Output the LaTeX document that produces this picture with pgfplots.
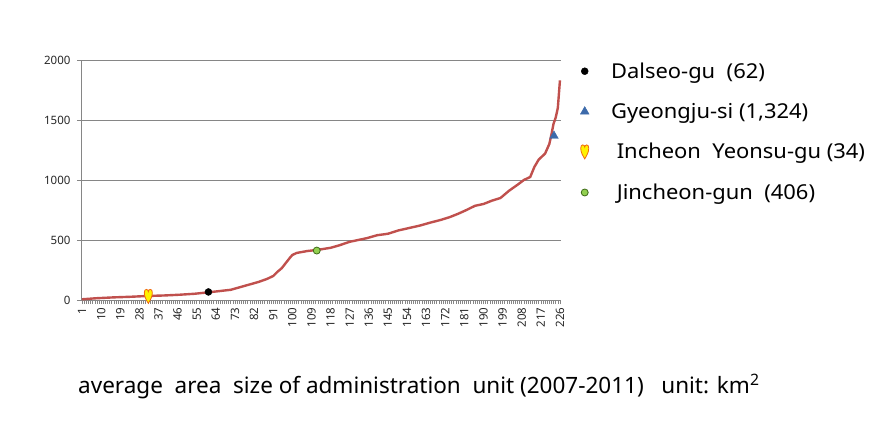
\documentclass[border=0pt]{standalone}
\usepackage{fontspec}
\setmainfont{Noto Sans}
\newfontfamily\legfont[FakeStretch=1.07]{Noto Sans}
\usepackage{pgfplots}
\pgfplotsset{compat=1.18}
\definecolor{curve}{HTML}{C0504D}
\definecolor{gridc}{HTML}{868686}
\definecolor{tri}{HTML}{3C6AAA}
\definecolor{grn}{HTML}{92D050}
\definecolor{grnd}{HTML}{3F6B1A}
\definecolor{heartline}{HTML}{F06A10}
\definecolor{heartfill}{HTML}{FFF200}
\pgfdeclareplotmark{heart}{%
\pgfpathmoveto{\pgfpoint{0pt}{-1.75\pgfplotmarksize}}%
\pgfpathcurveto{\pgfpoint{-0.5\pgfplotmarksize}{-0.9\pgfplotmarksize}}{\pgfpoint{-1\pgfplotmarksize}{-0.1\pgfplotmarksize}}{\pgfpoint{-1\pgfplotmarksize}{0.9\pgfplotmarksize}}%
\pgfpathcurveto{\pgfpoint{-1\pgfplotmarksize}{1.5\pgfplotmarksize}}{\pgfpoint{-0.8\pgfplotmarksize}{1.75\pgfplotmarksize}}{\pgfpoint{-0.5\pgfplotmarksize}{1.75\pgfplotmarksize}}%
\pgfpathcurveto{\pgfpoint{-0.2\pgfplotmarksize}{1.75\pgfplotmarksize}}{\pgfpoint{0pt}{1.5\pgfplotmarksize}}{\pgfpoint{0pt}{1.2\pgfplotmarksize}}%
\pgfpathcurveto{\pgfpoint{0pt}{1.5\pgfplotmarksize}}{\pgfpoint{0.2\pgfplotmarksize}{1.75\pgfplotmarksize}}{\pgfpoint{0.5\pgfplotmarksize}{1.75\pgfplotmarksize}}%
\pgfpathcurveto{\pgfpoint{0.8\pgfplotmarksize}{1.75\pgfplotmarksize}}{\pgfpoint{1\pgfplotmarksize}{1.5\pgfplotmarksize}}{\pgfpoint{1\pgfplotmarksize}{0.9\pgfplotmarksize}}%
\pgfpathcurveto{\pgfpoint{1\pgfplotmarksize}{-0.1\pgfplotmarksize}}{\pgfpoint{0.5\pgfplotmarksize}{-0.9\pgfplotmarksize}}{\pgfpoint{0pt}{-1.75\pgfplotmarksize}}%
\pgfpathclose
\pgfusepathqfillstroke}
\begin{document}
\begin{tikzpicture}[x=1pt,y=1pt]
\path (0,0) rectangle (882,437);
\begin{axis}[
  at={(81pt,137pt)}, anchor=south west,
  scale only axis, width=480pt, height=240pt,
  xmin=0.5, xmax=226.5, ymin=0, ymax=2000,
  axis x line*=bottom, axis y line*=left,
  axis line style={gridc, line width=0.8pt, -},
  tick align=outside,
  major tick length=4pt, minor tick length=4pt,
  every tick/.style={gridc, line width=0.6pt},
  xtick={1,10,...,226}, minor xtick={1,...,226},
  ytick={0,500,1000,1500,2000},
  ymajorgrids, grid style={gridc, line width=0.8pt},
  /pgf/number format/assume math mode=true,
  /pgf/number format/1000 sep={},
  ticklabel style={font=\fontsize{11.5}{13}\selectfont, text=black!85},
  xticklabel style={rotate=90, anchor=east, xshift=0pt},
  yticklabel style={xshift=-3pt},
  legend style={at={(1.04,0.998)}, anchor=north west, draw=none, fill=none,
    font=\legfont\fontsize{20.5}{23}\selectfont, row sep=19.5pt, inner sep=0pt,
    /tikz/every odd column/.append style={column sep=20pt}},
  legend cell align=left,
  clip=false,
]
\addplot[curve, line width=2.4pt, forget plot] table {
x y
1 6
8 15
16 22
24 27
31 33
40 38
47 44
54 52
61 65
66 75
71 85
75 105
80 130
84 150
88 175
91 200
93 235
95 265
97 310
99 355
100 375
102 392
107 408
112 418
118 435
122 455
127 485
131 500
135 515
140 540
145 552
150 580
155 600
160 620
165 645
170 668
174 690
178 718
182 750
186 785
190 800
194 828
198 850
202 910
206 960
209 1000
212 1025
214 1110
216 1170
219 1220
221 1300
222 1380
223 1470
224 1520
225 1600
226 1830
};
\addplot[only marks, mark=*, mark size=3.5pt, black] coordinates {(60.5,67)};
\addlegendentry{Dalseo-gu\ \ (62)}
\addplot[only marks, mark=triangle*, mark size=5pt, tri] coordinates {(223.2,1367)};
\addlegendentry{Gyeongju-si (1,324)}
\addplot[only marks, mark=heart, mark size=4pt, mark options={fill=heartfill, draw=heartline, line width=0.8pt}] coordinates {(32.2,30)};
\addlegendentry{\ Incheon\ \ Yeonsu-gu (34)}
\addplot[only marks, mark=*, mark size=3.5pt, mark options={fill=grn, draw=grnd, line width=0.8pt}] coordinates {(111.5,412)};
\addlegendentry{\ Jincheon-gun\ \ (406)}
\end{axis}
\node[anchor=base west, inner sep=0pt, font=\fontsize{22.5}{26}\selectfont] at (78,44) {average\ \ area\ \ size of administration\ \ unit (2007-2011)\ \ \ unit: km\textsuperscript{2}};
\pgfresetboundingbox
\useasboundingbox (0,0) rectangle (882,437);
\end{tikzpicture}
\end{document}
